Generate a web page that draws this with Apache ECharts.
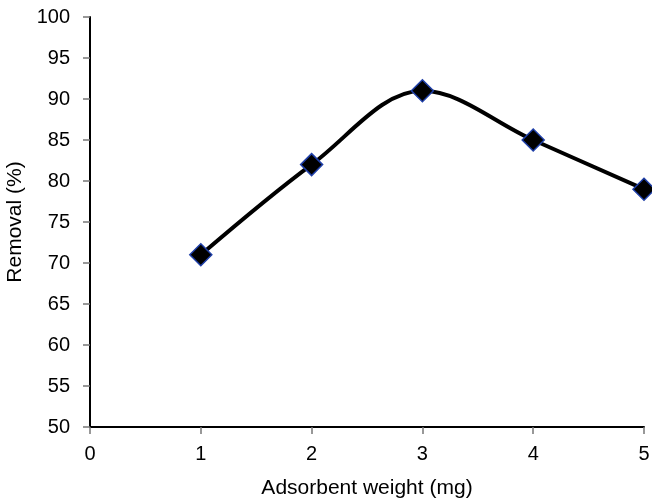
<!DOCTYPE html>
<html><head><meta charset="utf-8">
<script src="https://cdn.jsdelivr.net/npm/echarts@6/dist/echarts.min.js"></script>
<style>html,body{margin:0;padding:0;background:#fff}#c{width:652px;height:500px}</style>
</head><body><div id="c"></div>
<script>
const xValues = [1, 2, 3, 4, 5];
const removal = [71, 82, 91, 85, 79];
const xName = 'Adsorbent weight (mg)';
const yName = 'Removal (%)';
const chart = echarts.init(document.getElementById('c'), null, {renderer: 'canvas'});
const font = 'Liberation Sans, Arial, Helvetica, sans-serif';
chart.setOption({
  animation: false,
  grid: {left: 90, right: 8, top: 17, bottom: 73, containLabel: false, outerBoundsMode: 'none'},
  xAxis: {
    type: 'value', min: 0, max: 5, interval: 1,
    name: xName, nameLocation: 'middle', nameGap: 51,
    nameTextStyle: {color: '#000', fontSize: 21, fontFamily: font},
    axisLine: {show: true, lineStyle: {color: '#000', width: 2}},
    axisTick: {show: true, length: 7, lineStyle: {color: '#777', width: 1.5}},
    axisLabel: {color: '#000', fontSize: 20, fontFamily: font, margin: 17},
    splitLine: {show: false}
  },
  yAxis: {
    type: 'value', min: 50, max: 100, interval: 5,
    name: yName, nameLocation: 'middle', nameGap: 60,
    nameTextStyle: {color: '#000', fontSize: 21, fontFamily: font},
    axisLine: {show: true, lineStyle: {color: '#000', width: 2}},
    axisTick: {show: true, length: 7, lineStyle: {color: '#777', width: 1.5}},
    axisLabel: {color: '#000', fontSize: 20, fontFamily: font, margin: 20},
    splitLine: {show: false}
  },
  series: [{
    type: 'line',
    data: xValues.map((x, i) => [x, removal[i]]),
    smooth: 0.35,
    symbol: 'diamond', symbolSize: 22,
    lineStyle: {color: '#000', width: 4},
    itemStyle: {color: '#000', borderColor: '#1f3fa8', borderWidth: 1.5}
  }]
});
</script></body></html>
